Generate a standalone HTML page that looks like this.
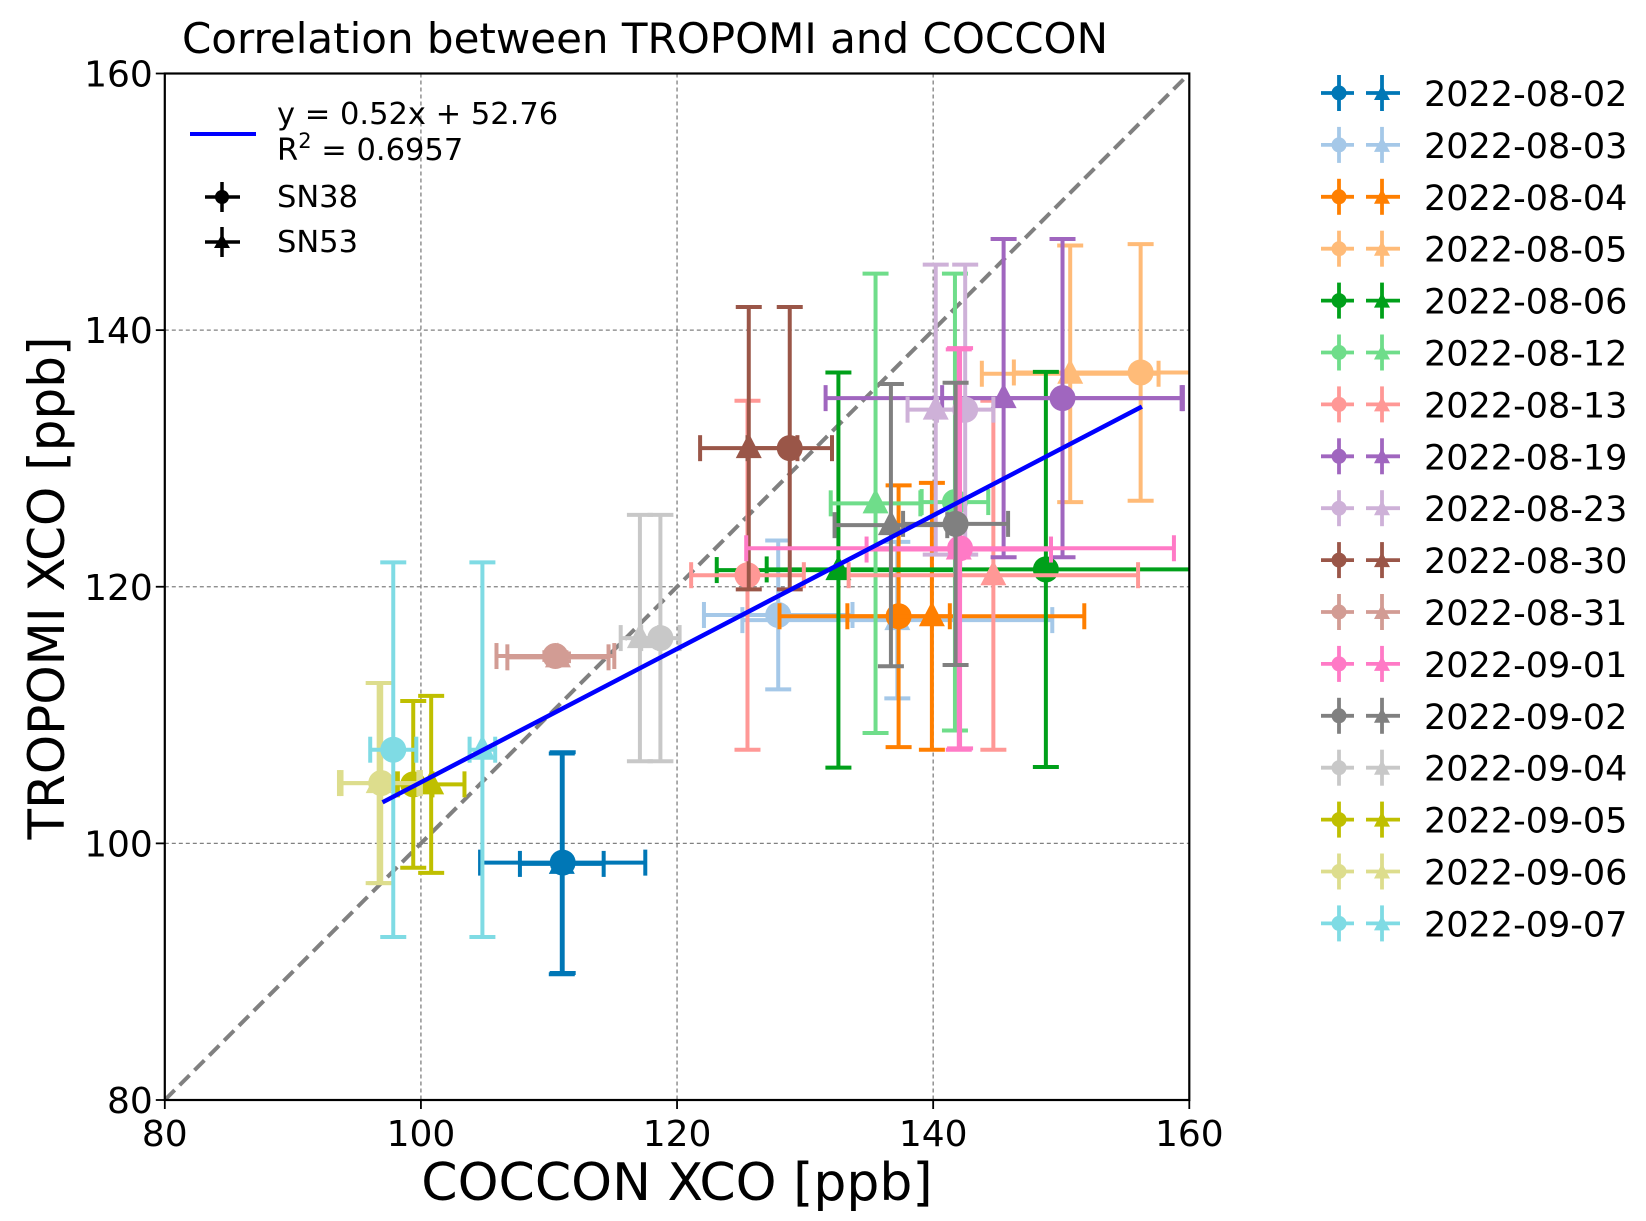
<!DOCTYPE html>
<html><head><meta charset="utf-8"><style>
html,body{margin:0;padding:0;background:#fff;}
svg{display:block;font-family:"DejaVu Sans","Liberation Sans",sans-serif;}
</style></head><body>
<svg id="chart" width="1646" height="1221" viewBox="0 0 1646 1221" xmlns="http://www.w3.org/2000/svg">
<defs><clipPath id="plotclip"><rect x="164.8" y="73.5" width="1024.5" height="1026.5"/></clipPath></defs>
<text x="645" y="53" font-size="42" text-anchor="middle">Correlation between TROPOMI and COCCON</text>
<g id="grid"></g>
<g id="marks" clip-path="url(#plotclip)"></g>
<rect x="164.8" y="73.5" width="1024.5" height="1026.5" fill="none" stroke="#000" stroke-width="2.2"/>
<g id="ticks"></g>
<text x="677" y="1200" font-size="52" text-anchor="middle">COCCON XCO [ppb]</text>
<text transform="translate(64,588) rotate(-90)" font-size="50" text-anchor="middle">TROPOMI XCO [ppb]</text>
<g>
<line x1="190" y1="134" x2="256" y2="134" stroke="#0000ff" stroke-width="4"/>
<text x="277" y="124" font-size="30.5">y = 0.52x + 52.76</text>
<text x="277" y="160" font-size="30.5">R<tspan font-size="21" dy="-12">2</tspan><tspan dy="12"> = 0.6957</tspan></text>
<g><line x1="205" y1="197" x2="240" y2="197" stroke="#000" stroke-width="3.5"/><line x1="222" y1="182" x2="222" y2="212" stroke="#000" stroke-width="3.5"/><circle cx="222" cy="197" r="7"/></g>
<text x="277" y="207" font-size="30.5">SN38</text>
<g><line x1="205" y1="242" x2="240" y2="242" stroke="#000" stroke-width="3.5"/><line x1="222" y1="227" x2="222" y2="257" stroke="#000" stroke-width="3.5"/><polygon points="222,234 230,248 214,248"/></g>
<text x="277" y="252" font-size="30.5">SN53</text>
</g>
<g id="legend"></g>
</svg>
<script>
const dates=["2022-08-02","2022-08-03","2022-08-04","2022-08-05","2022-08-06","2022-08-12","2022-08-13","2022-08-19","2022-08-23","2022-08-30","2022-08-31","2022-09-01","2022-09-02","2022-09-04","2022-09-05","2022-09-06","2022-09-07"];
const colors=["#0077b6","#a5c8e8","#ff7f00","#ffbb78","#00a01a","#6fdd8a","#ff9896","#a066bf","#ceb1d8","#9a5648","#d29c94","#ff7ac6","#808080","#c8c8c8","#bfbf00","#dddd8d","#7fdbe4"];
const sn38X=[111.07,127.9,137.3,156.2,148.8,141.7,125.5,150.1,142.5,128.8,110.5,142.1,141.75,118.7,99.4,96.9,97.84];
const sn38Y=[98.5,117.8,117.7,136.7,121.35,126.6,120.9,134.7,133.8,130.8,114.6,123.0,124.9,116.0,104.6,104.7,107.3];
const sn38Xerr=[6.45,5.8,4.0,9.9,21.8,2.6,4.4,9.4,2.2,3.3,4.6,16.7,4.1,1.5,1.5,3.1,1.8];
const sn38Yerr=[8.6,5.8,10.2,10.0,15.4,17.8,13.6,12.4,11.3,11.0,0.3,15.6,11.0,9.6,6.5,7.8,14.6];
const sn53X=[111.0,137.2,139.9,150.7,132.6,135.5,144.7,145.5,140.2,125.6,110.7,142.0,136.7,117.1,100.8,96.7,104.8];
const sn53Y=[98.4,117.4,117.7,136.6,121.3,126.5,120.9,134.7,133.8,130.8,114.5,122.9,124.8,116.0,104.6,104.7,107.3];
const sn53Xerr=[3.27,12.1,11.9,6.9,9.5,3.5,11.3,13.9,2.2,3.8,3.95,7.2,4.4,1.5,2.6,3.1,1.0];
const sn53Yerr=[8.6,6.1,10.4,10.0,15.4,17.9,13.6,12.4,11.3,11.0,0.3,15.6,11.0,9.6,6.9,7.8,14.6];
const xTicks=[80,100,120,140,160];
const yTicks=[80,100,120,140,160];
const fitSlope=0.52, fitIntercept=52.76, fitXmin=97, fitXmax=156.3;

const NS="http://www.w3.org/2000/svg";
const L=164.8,R=1189.3,T=73.5,B=1100;
const sx=v=>L+(v-80)/80*(R-L);
const sy=v=>B-(v-80)/80*(B-T);
function mk(tag,attrs,parent){const e=document.createElementNS(NS,tag);for(const k in attrs)e.setAttribute(k,attrs[k]);parent.appendChild(e);return e;}
const grid=document.getElementById('grid'),ticks=document.getElementById('ticks'),marks=document.getElementById('marks'),legend=document.getElementById('legend');
xTicks.forEach(v=>{
  if(v>80&&v<160){const g=mk('line',{x1:sx(v),x2:sx(v),y1:T,y2:B,stroke:'#808080','stroke-width':1.3,'stroke-dasharray':'4,3'},grid);
  
  }
  const t=mk('line',{x1:sx(v),x2:sx(v),y1:B,y2:B+9,stroke:'#000','stroke-width':1.8},ticks);
  
  
  const tx=mk('text',{x:sx(v),y:B+46,'font-size':36,'text-anchor':'middle'},ticks);tx.textContent=v;
  
  
});
yTicks.forEach(v=>{
  if(v>80&&v<160){const g=mk('line',{x1:L,x2:R,y1:sy(v),y2:sy(v),stroke:'#808080','stroke-width':1.3,'stroke-dasharray':'4,3'},grid);
  
  }
  const t=mk('line',{x1:L-9,x2:L,y1:sy(v),y2:sy(v),stroke:'#000','stroke-width':1.8},ticks);
  
  
  const tx=mk('text',{x:L-12,y:sy(v)+13,'font-size':36,'text-anchor':'end'},ticks);tx.textContent=v;
  
  
});
const cap=13;
function errbar(x,y,xe,ye,col,shape,name){
  const g=mk('g',{},marks);
  
  
  const a={stroke:col,'stroke-width':4};
  mk('line',Object.assign({x1:sx(x-xe),x2:sx(x+xe),y1:sy(y),y2:sy(y)},a),g);
  mk('line',Object.assign({x1:sx(x),x2:sx(x),y1:sy(y-ye),y2:sy(y+ye)},a),g);
  [x-xe,x+xe].forEach(v=>mk('line',Object.assign({x1:sx(v),x2:sx(v),y1:sy(y)-cap,y2:sy(y)+cap},a),g));
  [y-ye,y+ye].forEach(v=>mk('line',Object.assign({x1:sx(x)-cap,x2:sx(x)+cap,y1:sy(v),y2:sy(v)},a),g));
  const cx=sx(x),cy=sy(y);
  if(shape==='o')mk('circle',{cx:cx,cy:cy,r:13,fill:col},g);
  else mk('polygon',{points:`${cx},${cy-15} ${cx+13},${cy+10} ${cx-13},${cy+10}`,fill:col},g);
}
const diag=mk('line',{x1:sx(80),y1:sy(80),x2:sx(160),y2:sy(160),stroke:'#808080','stroke-width':4,'stroke-dasharray':'14,7'},marks);


dates.forEach((d,i)=>{
  errbar(sn38X[i],sn38Y[i],sn38Xerr[i],sn38Yerr[i],colors[i],'o','sn38-point-'+d);
  errbar(sn53X[i],sn53Y[i],sn53Xerr[i],sn53Yerr[i],colors[i],'^','sn53-point-'+d);
});
const fit=mk('line',{x1:sx(fitXmin),y1:sy(fitSlope*fitXmin+fitIntercept),x2:sx(fitXmax),y2:sy(fitSlope*fitXmax+fitIntercept),stroke:'#0000ff','stroke-width':4.5},marks);


dates.forEach((d,i)=>{
  const y=93+i*51.9;const g=mk('g',{},legend);
  
  
  const a={stroke:colors[i],'stroke-width':3.8};
  mk('line',Object.assign({x1:1321,x2:1354,y1:y,y2:y},a),g);
  mk('line',Object.assign({x1:1366,x2:1400,y1:y,y2:y},a),g);
  mk('line',Object.assign({x1:1339,x2:1339,y1:y-18,y2:y+18},a),g);
  mk('line',Object.assign({x1:1382,x2:1382,y1:y-18,y2:y+18},a),g);
  mk('circle',{cx:1339,cy:y,r:7.5,fill:colors[i]},g);
  mk('polygon',{points:`1382,${y-8} 1390,${y+7} 1374,${y+7}`,fill:colors[i]},g);
  const t=mk('text',{x:1424,y:y+13,'font-size':35},g);t.textContent=d;
});
</script>
</body></html>
